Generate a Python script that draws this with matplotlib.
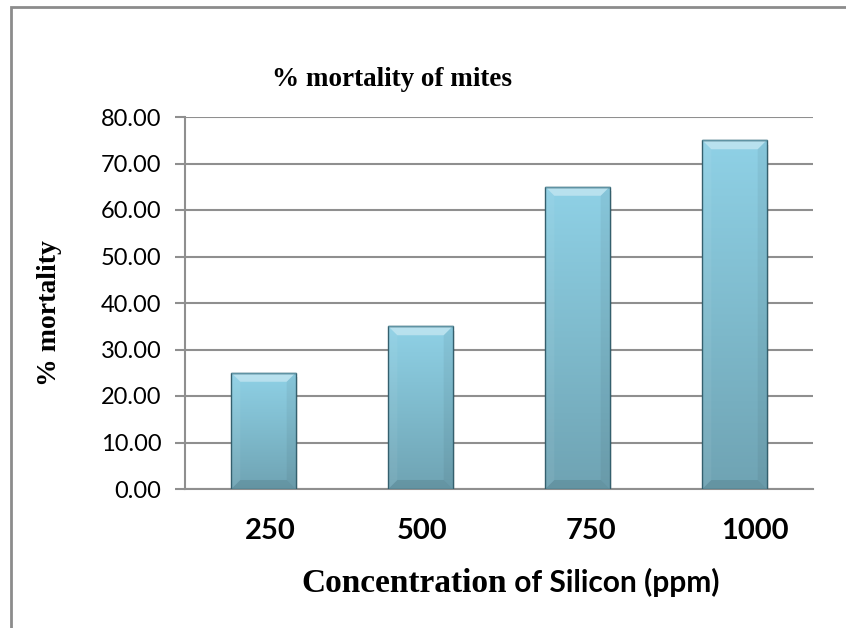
import numpy as np
import matplotlib
matplotlib.use("Agg")
import matplotlib.pyplot as plt
from matplotlib.colors import LinearSegmentedColormap
from matplotlib.patches import Polygon, Rectangle
from matplotlib.transforms import ScaledTranslation

# chart data
concentrations = ["250", "500", "750", "1000"]
mortality = [25.0, 35.0, 65.0, 75.0]
y_ticks = [0, 10, 20, 30, 40, 50, 60, 70, 80]

W, H = 846, 628
fig = plt.figure(figsize=(W / 100, H / 100), dpi=100)
fig.patch.set_facecolor("white")

# outer chart frame (runs off the right and bottom edges)
fig.patches.append(Rectangle((11 / W, -0.1), 1.2, (H - 7) / H + 0.1, transform=fig.transFigure,
                             facecolor="none", edgecolor="#8c8c8c", lw=2.0, zorder=0))

ax = fig.add_axes([185 / W, 139 / H, 628 / W, 372 / H])
x = np.arange(len(concentrations))
ax.set_xlim(-0.5, len(concentrations) - 0.5)
ax.set_ylim(0, 80)

grid_col = "#8f8f8f"
ax.set_axisbelow(True)
ax.yaxis.grid(True, color=grid_col, lw=1.5)
for side in ["top", "right"]:
    ax.spines[side].set_visible(False)
for side in ["left", "bottom"]:
    ax.spines[side].set_color(grid_col)
    ax.spines[side].set_linewidth(1.5)

ax.set_yticks(y_ticks)
ax.set_yticklabels([f"{v:.2f}" for v in y_ticks], fontfamily="Lato", fontsize=17)
ax.tick_params(axis="y", direction="out", length=7, width=1.5, color=grid_col, pad=10)
ax.set_xticks(x)
ax.set_xticklabels(concentrations, fontfamily="Lato", fontsize=21, fontweight="bold")
ax.tick_params(axis="x", length=0, pad=21)
# category labels sit a little right of the bar centres
for lbl, dx in zip(ax.get_xticklabels(), [7, 2, 13, 20]):
    lbl.set_transform(lbl.get_transform() + ScaledTranslation(dx / 100, 0, fig.dpi_scale_trans))

bar_w = 0.41
bars = ax.bar(x, mortality, width=bar_w, facecolor="none", edgecolor="#345f6d", lw=1.0, zorder=5)

face_cmap = LinearSegmentedColormap.from_list("face", ["#6fa3b3", "#7fbbcd", "#8fd1e6"])
grad = np.linspace(0, 1, 256).reshape(-1, 1)

# bevel size in data units (about 9 px each way)
bx = 9 * len(concentrations) / 628
by = 9 * 80 / 372

for bar in bars:
    x0, y0 = bar.get_x(), bar.get_y()
    x1, y1 = x0 + bar.get_width(), y0 + bar.get_height()

    # soft shadow to the right
    ax.add_patch(Rectangle((x1, y0), 0.014, y1 - y0 - by * 0.5, facecolor="#000000",
                           alpha=0.07, lw=0, zorder=2))

    im = ax.imshow(grad, cmap=face_cmap, origin="lower", aspect="auto",
                   extent=(x0, x1, y0, y1), zorder=3, interpolation="bicubic")
    im.set_clip_path(bar)

    top = Polygon([(x0, y1), (x1, y1), (x1 - bx, y1 - by), (x0 + bx, y1 - by)],
                  closed=True, facecolor="#ffffff", alpha=0.38, lw=0, zorder=4)
    left = Polygon([(x0, y0), (x0, y1), (x0 + bx, y1 - by), (x0 + bx, y0 + by)],
                   closed=True, facecolor="#ffffff", alpha=0.06, lw=0, zorder=4)
    right = Polygon([(x1, y0), (x1, y1), (x1 - bx, y1 - by), (x1 - bx, y0 + by)],
                    closed=True, facecolor="#000000", alpha=0.05, lw=0, zorder=4)
    bottom = Polygon([(x0, y0), (x1, y0), (x1 - bx, y0 + by), (x0 + bx, y0 + by)],
                     closed=True, facecolor="#000000", alpha=0.09, lw=0, zorder=4)
    for p in (top, left, right, bottom):
        ax.add_patch(p)
    # lighter rim along the top edge
    ax.plot([x0, x1], [y1, y1], color="#5f93a3", lw=1.0, zorder=6, solid_capstyle="butt")

# titles
fig.text(392 / W, 1 - 86 / H, "% mortality of mites", fontfamily="Liberation Serif",
         fontsize=19.5, fontweight="bold", ha="center", va="baseline")
fig.text(50 / W, 1 - 313 / H, "% mortality", fontfamily="Liberation Serif",
         fontsize=20, fontweight="bold", rotation=90, ha="center", va="center")

# x-axis title mixes a serif and a sans run
t1 = fig.text(301 / W, 1 - 592 / H, "Concentration", fontfamily="Liberation Serif",
              fontsize=24, fontweight="bold", ha="left", va="baseline")
fig.canvas.draw()
ext = t1.get_window_extent()
fig.text(ext.x1 / W, 1 - 592 / H, " of Silicon (ppm)", fontfamily="Lato",
         fontsize=21.5, fontweight="bold", ha="left", va="baseline")

fig.savefig("out.png", dpi=100)
